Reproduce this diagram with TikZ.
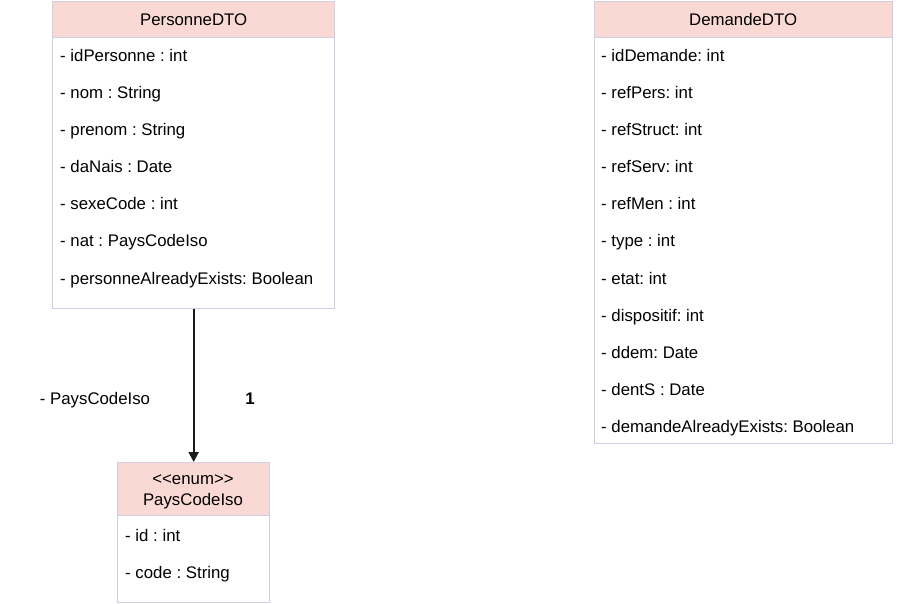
\documentclass[tikz,border=0pt]{standalone}
\usepackage{fontspec}
\setmainfont{Liberation Sans}
\usepackage{tikz}
\usetikzlibrary{arrows.meta,positioning}
\definecolor{umlpink}{HTML}{FAD9D5}
\definecolor{umlline}{HTML}{D0CEE2}
\definecolor{umlarrow}{HTML}{1A1A1A}
\frenchspacing

\begin{document}
\begin{tikzpicture}[x=1pt, y=-1pt,
    every node/.style={font=\fontsize{16.8}{21}\selectfont, inner sep=0pt},
    classbox/.style={draw=umlline, line width=1.3pt, fill=white, anchor=north west},
    classhead/.style={draw=umlline, line width=1.3pt, fill=umlpink, anchor=north west, align=center},
    attr/.style={anchor=base west}]
    \useasboundingbox (0,0) rectangle (900,604);

    % PersonneDTO
    \node[classbox, minimum width=282pt, minimum height=307pt] (pers) at (52,0.7) {};
    \node[classhead, minimum width=282pt, minimum height=36.5pt] (persHead) at (pers.north west) {PersonneDTO};
    \foreach \txt [count=\i] in {- idPersonne : int, - nom : String, - prenom : String, - daNais : Date,
        - sexeCode : int, - nat : PaysCodeIso, - personneAlreadyExists: Boolean}
        \node[attr] (persA\i) at (60, 25+37*\i) {\txt};

    % DemandeDTO
    \node[classbox, minimum width=298pt, minimum height=442pt] (dem) at (593.5,0.7) {};
    \node[classhead, minimum width=298pt, minimum height=36.5pt] (demHead) at (dem.north west) {DemandeDTO};
    \foreach \txt [count=\i] in {- idDemande: int, - refPers: int, - refStruct: int, - refServ: int,
        - refMen : int, - type : int, - etat: int, - dispositif: int, - ddem: Date, - dentS : Date,
        - demandeAlreadyExists: Boolean}
        \node[attr] (demA\i) at (601, 25+37*\i) {\txt};

    % PaysCodeIso (enum)
    \node[classbox, minimum width=152pt, minimum height=140pt] (pays) at (117,462) {};
    \node[classhead, minimum width=152pt, minimum height=53pt] (paysHead) at (pays.north west) {};
    \node[anchor=base] (paysStereo) at (193,484) {{<}{<}enum{>}{>}};
    \node[anchor=base] (paysName) at (193,505) {PaysCodeIso};
    \node[attr] (paysA1) at (125,541) {- id : int};
    \node[attr] (paysA2) at (125,578) {- code : String};

    % association
    \draw[umlarrow, line width=2pt, -{Triangle[width=10pt, length=10pt]}] (pers) -- (pays);
    \node[anchor=base] (assocName) at (95,404) {- PaysCodeIso};
    \node[anchor=base, font=\fontsize{16.8}{21}\selectfont\bfseries] (assocMult) at (250,404) {1};
\end{tikzpicture}
\end{document}
